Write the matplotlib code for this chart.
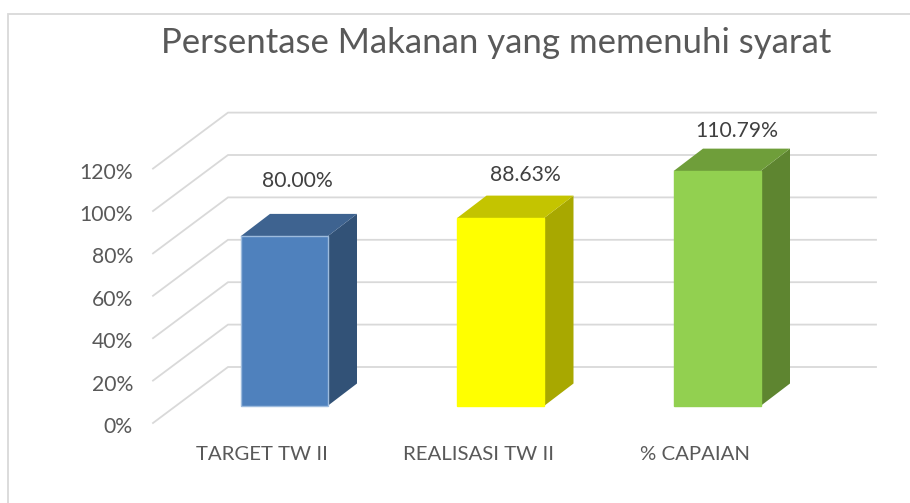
import matplotlib
matplotlib.use("Agg")
import matplotlib.pyplot as plt
from matplotlib.patches import Polygon, Rectangle

plt.rcParams['font.family'] = ['Lato', 'DejaVu Sans']

title = "Persentase Makanan yang memenuhi syarat"
categories = ["TARGET TW II", "REALISASI TW II", "% CAPAIAN"]
values = [80.00, 88.63, 110.79]
value_labels = ["80.00%", "88.63%", "110.79%"]
ticks = [0, 20, 40, 60, 80, 100, 120]
front = ["#4F81BD", "#FFFF00", "#92D050"]
top = ["#3E6390", "#C4C400", "#6F9E3A"]
side = ["#325277", "#A8A800", "#5E8530"]
edge = ["#9DBBDD", "#FFFF00", "#92D050"]
# offsets of the value labels from each bar's top-centre, in pixels
label_dx = [13, 25, 20]
label_dy = [55, 43, 40]

W, H = 910, 503
PX_X = 216.5   # pixels per category
PX_Y = 2.12    # pixels per percent
fig = plt.figure(figsize=(W / 100, H / 100), dpi=100)
ax = fig.add_axes([0, 0, 1, 1])
ax.set_xlim(-284 / PX_X, (W - 284) / PX_X)
ax.set_ylim((406 - H) / PX_Y, 406 / PX_Y)
ax.axis("off")

def dx(p): return p / PX_X
def dy(p): return p / PX_Y
def xp(p): return (p - 284) / PX_X
def yp(p): return (406 - p) / PX_Y

bw = dx(87)
depth_x, depth_y = dx(29.5), dy(22.5)
wall_x0, wall_x1, wall_x2 = xp(153), xp(228), xp(876)
front_off, back_off = dy(-17), dy(39)

# frame: left and top edges only
ax.plot([xp(8), xp(8), xp(910)], [yp(503), yp(14), yp(14)],
        color="#D9D9D9", lw=1.3, solid_joinstyle="miter")

for t in ticks:
    ax.plot([wall_x0, wall_x1, wall_x2],
            [t + front_off, t + back_off, t + back_off],
            color="#D9D9D9", lw=1.3, zorder=1, solid_joinstyle="miter")
    ax.text(xp(133), t + front_off + dy(-4), f"{t}%", ha="right", va="center",
            fontsize=15.2, color="#595959")

for i, (v, c) in enumerate(zip(values, categories)):
    l, r = i - bw / 2, i + bw / 2
    ax.add_patch(Polygon([(r, 0), (r + depth_x, depth_y), (r + depth_x, v + depth_y), (r, v)],
                         facecolor=side[i], edgecolor="none", zorder=3))
    ax.add_patch(Polygon([(l, v), (l + depth_x, v + depth_y), (r + depth_x, v + depth_y), (r, v)],
                         facecolor=top[i], edgecolor="none", zorder=3))
    ax.add_patch(Rectangle((l, 0), bw, v, facecolor=front[i], edgecolor=edge[i], lw=1.0, zorder=4))
    ax.text(i + dx(label_dx[i]), v + dy(label_dy[i]), value_labels[i], ha="center", va="center",
            fontsize=15.2, color="#404040")
    ax.text(i - dx(22), dy(-48), c, ha="center", va="center",
            fontsize=14.7, color="#595959")

ax.text(xp(496.5), yp(43), title, ha="center", va="center",
        fontsize=25, color="#595959")

fig.savefig("out.png", dpi=100)
